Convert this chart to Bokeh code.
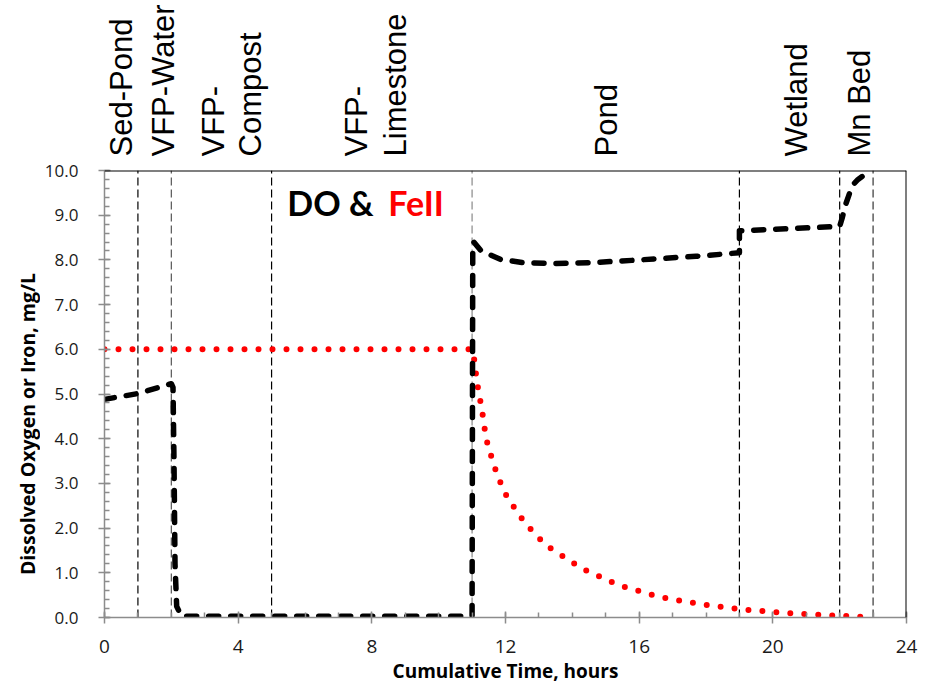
import math

from bokeh.plotting import figure
from bokeh.layouts import column, row
from bokeh.models import Range1d, FixedTicker, Label, Span, NumeralTickFormatter
from bokeh.core.properties import value
from bokeh.embed import file_html
from bokeh.resources import INLINE

# Treatment-train stage boundaries (cumulative hours)
stage_bounds = [1, 2, 5, 11, 19, 22, 23]

# Stage names written above the plot (multi-word names split over two lines)
stage_names = ["Sed-Pond", "VFP-Water", "VFP-", "Compost", "VFP-", "Limestone",
               "Pond", "Wetland", "Mn Bed"]
stage_name_x = [0.51, 1.76, 3.26, 4.37, 7.54, 8.71, 15.02, 20.71, 22.59]

# Dissolved oxygen, mg/L
do_hours = [0, 1, 2, 2.05, 2.08, 2.11, 2.16, 2.3, 11.0, 11.02, 11.05, 11.25, 11.55,
            11.85, 12.15, 12.5, 13.5, 14.6, 15.8, 17.7, 19.0, 19.0, 20.5, 22.0,
            22.08, 22.17, 22.3, 22.42, 22.55, 22.72, 22.85, 23.0]
do_mgL = [4.88, 5.01, 5.23, 5.15, 3.5, 1.2, 0.25, 0.03, 0.03, 8.3, 8.40, 8.22, 8.11,
          8.01, 7.98, 7.94, 7.92, 7.94, 7.99, 8.08, 8.16, 8.65, 8.70, 8.75,
          8.95, 9.22, 9.50, 9.70, 9.80, 9.89, 9.93, 9.96]

# Ferrous iron, mg/L
fe_hours = [0, 11.0, 11.05, 11.1, 11.15, 11.3, 11.42, 11.65, 11.95, 12.4, 12.65,
            13.2, 14.3, 15.4, 16.6, 17.9, 19.1, 20.4, 21.6, 22.9]
fe_mgL = [6.0, 6.0, 5.85, 5.55, 5.25, 4.62, 4.0, 3.41, 2.82, 2.3, 2.06,
          1.62, 1.09, 0.72, 0.46, 0.29, 0.18, 0.10, 0.05, 0.01]

x_ticks = [0, 4, 8, 12, 16, 20, 24]
x_minor = list(range(0, 25))
y_ticks = [0, 1, 2, 3, 4, 5, 6, 7, 8, 9, 10]
y_minor = [round(i * 0.2, 1) for i in range(0, 51)]

y_title = "Dissolved Oxygen or Iron, mg/L"
x_title = "Cumulative Time, hours"

AXIS_GREY = "#8c8c8c"
LABEL_FONT = "Open Sans"
PAGE_W, PAGE_H = 934, 686
LEFT_W = 40          # strip holding the y-axis title
TOP_H = 157          # strip holding the stage names
FRAME_LEFT, FRAME_TOP = 104, 170


def bare(fig):
    fig.grid.visible = False
    fig.outline_line_color = None
    fig.background_fill_color = "white"
    fig.border_fill_color = "white"


# ---- main chart -------------------------------------------------------
p = figure(width=PAGE_W - LEFT_W, height=PAGE_H - TOP_H,
           x_range=Range1d(0, 24), y_range=Range1d(0, 10),
           output_backend="svg", toolbar_location=None,
           min_border_left=FRAME_LEFT - LEFT_W, min_border_right=28,
           min_border_top=FRAME_TOP - TOP_H, min_border_bottom=67)
bare(p)

p.xaxis.ticker = FixedTicker(ticks=x_ticks, minor_ticks=x_minor)
p.yaxis.ticker = FixedTicker(ticks=y_ticks, minor_ticks=y_minor)
p.yaxis.formatter = NumeralTickFormatter(format="0.0")
for ax in (p.xaxis, p.yaxis):
    ax.axis_line_color = AXIS_GREY
    ax.axis_line_width = 1.5
    ax.major_tick_line_color = AXIS_GREY
    ax.major_tick_line_width = 1.5
    ax.minor_tick_line_color = AXIS_GREY
    ax.minor_tick_line_width = 1.5
    ax.major_tick_in = 6
    ax.major_tick_out = 6
    ax.minor_tick_in = 5
    ax.minor_tick_out = 0
    ax.major_label_text_font = LABEL_FONT
    ax.major_label_text_color = "#1a1a1a"
p.xaxis.major_label_text_font_size = "19px"
p.yaxis.major_label_text_font_size = "17px"
p.xaxis.major_label_standoff = 16
p.yaxis.major_label_standoff = 20

p.xaxis.axis_label = x_title
p.xaxis.axis_label_text_font = LABEL_FONT
p.xaxis.axis_label_text_font_style = "bold"
p.xaxis.axis_label_text_font_size = "19px"
p.xaxis.axis_label_text_color = "black"
p.xaxis.axis_label_standoff = 2

# frame: black top and right edges
p.add_layout(Span(location=10, dimension="width", line_color="black", line_width=2))
p.add_layout(Span(location=24, dimension="height", line_color="black", line_width=2))

# stage boundary lines
bound_colors = ["black", "#555555", "black", "#888888", "black", "black", "#333333"]
p.segment(x0=stage_bounds, y0=[0] * len(stage_bounds),
          x1=stage_bounds, y1=[10] * len(stage_bounds),
          line_color=bound_colors, line_width=1.2, line_dash="8 4")

# FeII (red dots) and DO (heavy black dashes)
p.line(fe_hours, fe_mgL, line_color="#ff0000", line_width=6,
       line_dash="0 14", line_cap="round", line_join="round")
p.line(do_hours, do_mgL, line_color="black", line_width=5.5,
       line_dash="10 12", line_cap="round", line_join="round")

# panel title
p.add_layout(Label(x=5.47, y=9.29, text="DO &", text_align="left",
                   text_baseline="alphabetic", text_font="Lato",
                   text_font_style="bold", text_font_size="34px", text_color="black"))
p.add_layout(Label(x=8.49, y=9.29, text="FeII", text_align="left",
                   text_baseline="alphabetic", text_font="Lato",
                   text_font_style="bold", text_font_size="34px", text_color="#ff0000"))

# ---- stage-name strip above the chart (shares the time axis) ----------
top = figure(width=PAGE_W - LEFT_W, height=TOP_H, x_range=p.x_range,
             y_range=Range1d(0, TOP_H),
             output_backend="svg", toolbar_location=None,
             min_border_left=FRAME_LEFT - LEFT_W, min_border_right=28,
             min_border_top=0, min_border_bottom=0,
             x_axis_type=None, y_axis_type=None)
bare(top)
top.text(x=stage_name_x, y=[1] * len(stage_names), text=stage_names,
         angle=math.pi / 2, text_align="left", text_baseline="alphabetic",
         text_font=value("Liberation Sans"), text_font_size=value("31px"),
         text_color="black")

# ---- strip on the left for the y-axis title (pixel coordinates) --------
left = figure(width=LEFT_W, height=PAGE_H, x_range=Range1d(0, LEFT_W),
              y_range=Range1d(0, PAGE_H),
              output_backend="svg", toolbar_location=None,
              min_border_left=0, min_border_right=0,
              min_border_top=0, min_border_bottom=0,
              x_axis_type=None, y_axis_type=None)
bare(left)
left.text(x=[27], y=[PAGE_H - 423.5], text=[y_title], angle=math.pi / 2,
          text_align="center", text_baseline="middle",
          text_font=value(LABEL_FONT), text_font_style="bold",
          text_font_size=value("19.5px"), text_color="black")

layout = row(left, column(top, p, spacing=0), spacing=0)
open("out.html", "w").write(file_html(layout, INLINE))
